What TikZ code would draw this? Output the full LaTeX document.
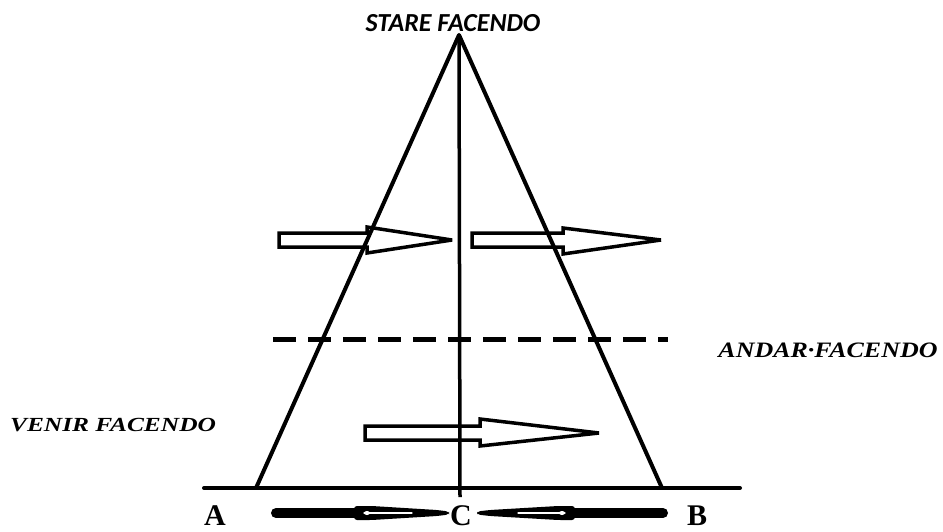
\documentclass[tikz,border=0pt]{standalone}
\usepackage{fontspec}
\setmainfont{Liberation Serif}
\newfontfamily\calib{Carlito}
\begin{document}
\begin{tikzpicture}[x=1pt,y=-1pt,
  thickline/.style={line width=4pt,line cap=round,line join=round},
  outarrow/.style={line width=3.5pt,line join=miter,miter limit=4,fill=white},
  lbl/.style={inner sep=0pt,anchor=center},
  letter/.style={inner sep=0pt,font=\fontsize{30}{32}\selectfont\bfseries}]
\useasboundingbox (0,0) rectangle (943,531);
% key points
\coordinate (apex) at (459,35);
\coordinate (bl) at (256,488);
\coordinate (br) at (662,488);
\coordinate (baseL) at (204,488);
\coordinate (baseR) at (740,488);
\coordinate (cbot) at (460,497);
\coordinate (dashL) at (273,339);
\coordinate (dashR) at (668,339);
% upper outline arrows
\draw[outarrow] (279,233) -- (367,233) -- (367,227) -- (452,240) -- (367,253) -- (367,247) -- (279,247) -- cycle;
\draw[outarrow] (472,233) -- (563,233) -- (563,228) -- (661,240) -- (563,254) -- (563,247) -- (472,247) -- cycle;
% lower outline arrow
\draw[outarrow] (365,426) -- (480,426) -- (480,419) -- (599,433) -- (480,446) -- (480,440) -- (365,440) -- cycle;
% triangle, axis, base
\draw[thickline] (bl) -- (apex) -- (br);
\draw[line width=3.5pt] (apex) -- (cbot);
\draw[thickline] (baseL) -- (baseR);
\draw[line width=5pt,dash pattern=on 23pt off 12pt] (dashL) -- (dashR);
% bottom arrows toward C
\draw[line width=10pt,line cap=round] (276,513) -- (357,513);
\fill[rounded corners=3pt] (354,506) -- (372,506) -- (437,510) -- (449,511.5) -- (449,514.5) -- (437,516) -- (372,520) -- (354,520) -- cycle;
\draw[white,line width=1.3pt,line cap=round] (364,513) -- (412,513);
\fill[white] (367,513) ellipse (3pt and 2pt);
\draw[line width=10pt,line cap=round] (663,513) -- (572,513);
\fill[rounded corners=3pt] (575,506) -- (558,506) -- (490,510) -- (477,511.5) -- (477,514.5) -- (490,516) -- (558,520) -- (575,520) -- cycle;
\draw[white,line width=1.3pt,line cap=round] (565,513) -- (518,513);
\fill[white] (562,513) ellipse (3pt and 2pt);
% labels
\node[lbl,font=\calib\fontsize{26}{28}\selectfont\bfseries\itshape] (stare) at (453,23) {STARE FACENDO};
\node[lbl,xscale=1.27,font=\fontsize{20}{22}\selectfont\bfseries\itshape] (venir) at (113,425) {VENIR FACENDO};
\node[lbl,xscale=1.18,font=\fontsize{22}{24}\selectfont\bfseries\itshape] (andar) at (828,350) {ANDAR·FACENDO};
\node[letter] (A) at (215,516) {A};
\node[letter] (C) at (461,516) {C};
\node[letter] (B) at (697,516) {B};
\end{tikzpicture}
\end{document}
